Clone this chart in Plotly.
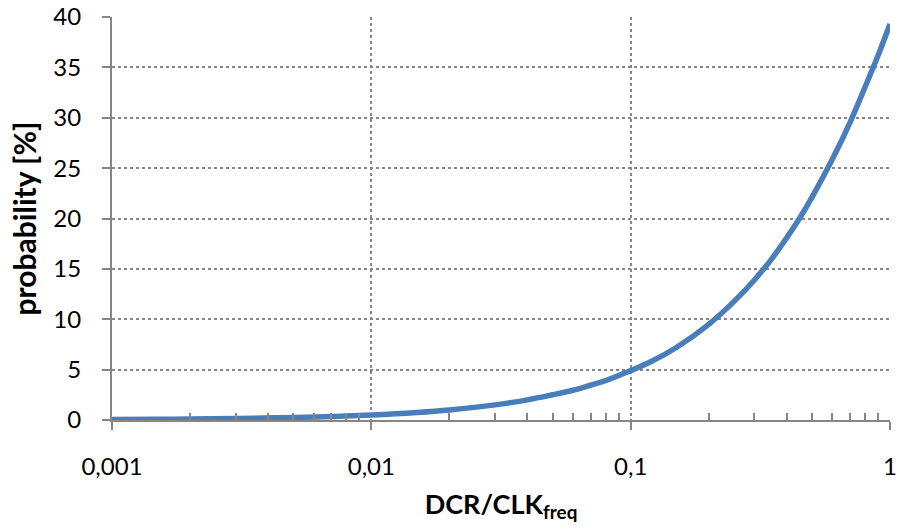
import plotly.graph_objects as go

# ratio DCR/CLK_freq
ratio = [0.001, 0.0015, 0.002, 0.003, 0.005, 0.007, 0.01, 0.015, 0.02, 0.03, 0.04,
         0.05, 0.06, 0.07, 0.08, 0.1, 0.12, 0.15, 0.2, 0.25, 0.3, 0.35, 0.4, 0.45,
         0.5, 0.6, 0.7, 0.8, 0.9, 1.0]
# probability [%]
prob = [0.05, 0.07, 0.1, 0.15, 0.25, 0.35, 0.5, 0.75, 1.0, 1.5, 2.0,
        2.5, 2.95, 3.45, 3.9, 4.9, 5.8, 7.2, 9.5, 11.75, 13.9, 16.0, 18.1, 20.1,
        22.1, 25.9, 29.5, 33.0, 36.2, 39.3]

x_tickvals = [0.001, 0.01, 0.1, 1]
x_ticktext = ["0,001", "0,01", "0,1", "1"]
x_minor = [m * d for d in [0.001, 0.01, 0.1] for m in range(2, 10)]
y_tickvals = [0, 5, 10, 15, 20, 25, 30, 35, 40]

axis_col = "#868686"
font_fam = "Lato, 'Open Sans', sans-serif"

fig = go.Figure()
fig.add_trace(go.Scatter(x=ratio, y=prob, mode="lines",
                         line=dict(color="#4A7EBB", width=5.5, shape="spline"),
                         showlegend=False))

fig.update_layout(
    width=898, height=531,
    margin=dict(l=112, r=8, t=17, b=111, autoexpand=False),
    paper_bgcolor="white", plot_bgcolor="white",
    font=dict(family=font_fam, size=24, color="black"),
    xaxis=dict(
        type="log", range=[-3, 0],
        tickmode="array", tickvals=x_tickvals, ticktext=x_ticktext,
        ticks="outside", ticklen=8, tickwidth=2, tickcolor=axis_col,
        ticklabelstandoff=16,
        showline=True, linecolor=axis_col, linewidth=2,
        showgrid=True, gridcolor=axis_col, griddash="dot", gridwidth=1.5,
        zeroline=False, automargin=False,
        minor=dict(tickmode="array", tickvals=x_minor, ticks="inside",
                   ticklen=7, tickwidth=1.5, tickcolor=axis_col, showgrid=False),
        title=dict(text="<b>DCR/CLK<sub>freq</sub></b>", standoff=16,
                   font=dict(size=27)),
    ),
    yaxis=dict(
        range=[0, 40], tickmode="array", tickvals=y_tickvals,
        ticks="outside", ticklen=8, tickwidth=2, tickcolor=axis_col,
        ticklabelstandoff=16,
        showline=True, linecolor=axis_col, linewidth=2,
        showgrid=True, gridcolor=axis_col, griddash="dot", gridwidth=1.5,
        zeroline=False, automargin=False,
        title=dict(text="<b>probability [%]</b>", standoff=8,
                   font=dict(size=30)),
    ),
)

fig.write_html("out.html")
